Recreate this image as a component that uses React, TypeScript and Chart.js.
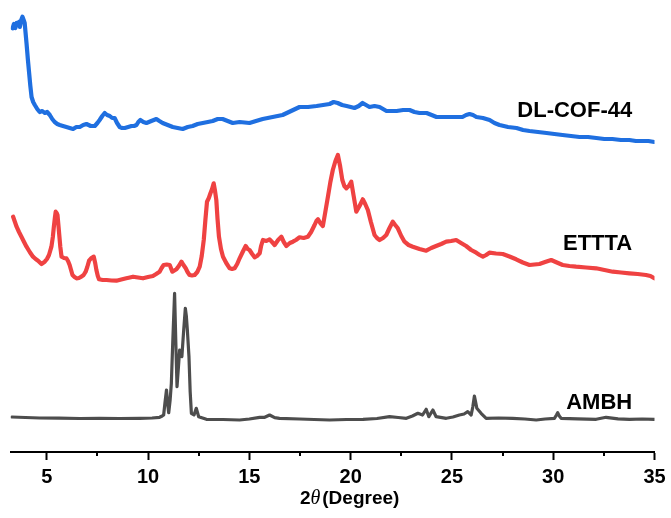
import { useEffect, useRef } from "react";
import { Chart, registerables } from "chart.js";

Chart.register(...registerables);

// 2θ axis range and tick positions (degrees)
const X_MIN = 3.22;
const X_MAX = 35;
const MAJOR_TICKS = [5, 10, 15, 20, 25, 30, 35];
const MINOR_TICKS = [7.5, 12.5, 17.5, 22.5, 27.5, 32.5];

// Stacked intensity scale (a.u.)
const Y_MIN = 0;
const Y_MAX = 442;

const SERIES_NAMES = ["DL-COF-44", "ETTTA", "AMBH"];
const SERIES_COLORS = ["#1f6fe0", "#ef4242", "#4d4d4d"];
const SERIES_WIDTHS = [4.2, 4.2, 3.2];
// Where each trace name sits: [2θ of right edge, intensity]
const LABEL_POS: [number, number][] = [
  [33.9, 341],
  [33.9, 208],
  [33.9, 49.5],
];

// [2θ, intensity] for the COF pattern (offset upward)
const DLCOF44: [number, number][] = [
  [3.31, 423.7], [3.38, 428], [3.45, 424], [3.51, 429], [3.57, 427], [3.63, 430],
  [3.67, 425], [3.74, 432], [3.8, 435.3], [3.86, 432], [3.91, 429], [4.0, 409],
  [4.07, 392], [4.13, 379], [4.19, 366], [4.25, 355], [4.33, 350], [4.41, 347],
  [4.53, 343], [4.65, 340], [4.78, 341], [4.9, 339], [5.02, 340], [5.15, 337],
  [5.27, 333], [5.39, 330], [5.52, 328], [5.64, 327], [5.8, 326], [5.97, 325],
  [6.13, 324], [6.3, 323], [6.46, 325], [6.63, 325], [6.8, 327], [6.96, 328],
  [7.17, 326], [7.37, 326], [7.5, 329], [7.61, 332], [7.74, 336], [7.86, 339],
  [7.98, 337], [8.11, 336], [8.23, 334], [8.35, 334], [8.47, 329], [8.6, 325],
  [8.72, 324], [8.85, 324], [9.02, 325], [9.18, 326], [9.31, 326], [9.43, 327],
  [9.52, 330], [9.62, 332], [9.77, 330], [9.92, 329], [10.16, 331], [10.41, 333],
  [10.56, 331], [10.72, 329], [10.97, 327], [11.22, 325], [11.46, 324], [11.71, 323],
  [11.96, 325], [12.2, 326], [12.45, 328], [12.7, 329], [12.95, 330], [13.19, 331],
  [13.44, 333], [13.68, 333], [13.93, 331], [14.18, 329], [14.52, 330], [15.01, 329],
  [15.33, 331], [15.66, 333], [16.15, 335], [16.64, 337], [17.06, 341], [17.48, 345],
  [17.9, 345], [18.32, 346], [18.64, 347], [18.96, 348], [19.16, 350], [19.36, 349],
  [19.58, 347], [19.8, 346], [20.0, 345], [20.19, 344], [20.4, 346], [20.59, 349],
  [20.76, 347], [20.93, 345], [21.18, 346], [21.43, 345], [21.6, 343], [21.77, 341],
  [22.02, 341], [22.27, 341], [22.59, 342], [22.91, 342], [23.15, 340], [23.4, 339],
  [23.75, 339], [24.0, 337], [24.24, 335], [24.56, 335], [24.88, 335], [25.2, 335],
  [25.52, 335], [25.7, 337], [25.87, 338], [26.04, 337], [26.21, 335], [26.53, 334],
  [26.86, 332], [27.1, 329], [27.35, 327], [27.77, 325], [28.19, 324], [28.51, 322],
  [28.83, 321], [29.25, 320], [29.67, 319], [30.06, 318], [30.46, 317], [30.88, 316],
  [31.3, 315], [31.72, 315], [32.13, 314], [32.52, 313], [32.92, 313], [33.34, 312],
  [33.76, 312], [34.08, 311], [34.4, 311], [34.7, 311], [34.99, 310],
];

// [2θ, intensity] for the linker pattern (middle trace)
const ETTTA: [number, number][] = [
  [3.34, 235.3], [3.43, 230], [3.51, 225.3], [3.63, 220], [3.75, 215.3], [3.88, 210],
  [4.0, 205.3], [4.16, 200], [4.32, 195.3], [4.45, 193], [4.57, 191.3], [4.74, 188],
  [4.9, 190.3], [5.01, 193], [5.11, 197], [5.23, 205.3], [5.3, 215], [5.35, 225.3],
  [5.4, 234], [5.44, 240.3], [5.49, 239], [5.53, 237], [5.57, 228], [5.61, 218.7],
  [5.67, 205], [5.73, 195.3], [5.85, 194], [5.97, 193.7], [6.05, 191], [6.13, 187],
  [6.2, 182], [6.27, 177], [6.37, 175], [6.47, 173.7], [6.59, 174], [6.71, 175.3],
  [6.82, 177], [6.92, 180.3], [7.0, 185], [7.09, 191.3], [7.2, 194], [7.32, 195.3],
  [7.39, 189], [7.45, 182], [7.52, 176], [7.58, 172.7], [7.76, 172], [7.95, 172],
  [8.2, 171.5], [8.44, 171.3], [8.68, 172.5], [8.93, 173.7], [9.1, 174.5], [9.26, 175.3],
  [9.5, 174.5], [9.75, 173.7], [10.0, 175], [10.24, 176], [10.4, 178], [10.57, 180.3],
  [10.67, 184], [10.77, 187], [10.92, 187.5], [11.07, 187], [11.2, 180.3], [11.3, 181.5],
  [11.4, 182.7], [11.52, 186], [11.65, 190.3], [11.75, 187], [11.86, 183.7], [11.95, 180],
  [12.05, 177], [12.17, 176.5], [12.3, 177], [12.43, 180], [12.55, 185.3], [12.65, 196],
  [12.75, 212], [12.83, 232], [12.91, 250.3], [13.0, 254], [13.08, 258.7], [13.16, 263],
  [13.24, 268.7], [13.3, 262], [13.37, 252], [13.43, 233], [13.5, 215.3], [13.6, 203],
  [13.7, 195.3], [13.86, 189], [14.03, 183.7], [14.15, 183], [14.27, 183.7], [14.4, 188],
  [14.52, 193.7], [14.67, 200], [14.82, 206], [14.92, 203], [15.01, 202], [15.14, 198],
  [15.26, 194.7], [15.38, 196], [15.51, 198.7], [15.58, 206], [15.67, 212], [15.84, 211],
  [16.0, 212.7], [16.12, 210], [16.25, 207], [16.42, 212], [16.58, 215.3], [16.7, 210],
  [16.83, 206], [17.0, 209], [17.15, 210.3], [17.3, 212], [17.48, 214.7], [17.68, 214],
  [17.89, 215.3], [18.05, 220], [18.22, 227], [18.31, 231], [18.39, 232.7], [18.5, 229],
  [18.63, 226], [18.75, 240], [18.88, 255.3], [19.0, 270], [19.12, 282], [19.25, 291],
  [19.37, 297], [19.48, 286], [19.59, 272], [19.69, 266], [19.79, 263.7], [19.91, 266],
  [20.03, 270.3], [20.15, 256], [20.28, 240.3], [20.44, 246], [20.6, 252.7], [20.72, 248],
  [20.85, 242], [21.0, 230], [21.18, 217], [21.3, 214], [21.43, 212], [21.6, 214],
  [21.76, 217], [21.92, 224], [22.08, 230.3], [22.2, 227], [22.33, 223.7], [22.5, 216],
  [22.66, 210.3], [22.86, 207], [23.07, 205.3], [23.4, 203], [23.73, 201.3], [23.98, 204],
  [24.22, 206], [24.47, 208], [24.72, 210.3], [24.96, 211], [25.21, 212], [25.45, 209],
  [25.7, 206], [25.95, 202], [26.2, 199.3], [26.37, 197], [26.53, 195.3], [26.69, 197],
  [26.85, 199.3], [27.18, 198.5], [27.51, 198], [27.84, 195.5], [28.17, 192.7], [28.5, 189.5],
  [28.83, 187], [29.07, 187.5], [29.32, 188], [29.6, 190], [29.9, 192], [30.18, 189.5],
  [30.47, 187], [30.8, 186], [31.13, 185.3], [31.62, 184.5], [32.12, 183.7], [32.53, 182],
  [32.94, 180.3], [33.35, 179.5], [33.76, 178.7], [34.17, 178], [34.58, 177], [34.8, 176],
  [34.99, 173.7],
];

// [2θ, intensity] for the amine building block (bottom trace)
const AMBH: [number, number][] = [
  [3.27, 35], [3.95, 34.5], [4.65, 34], [5.6, 33.8], [6.63, 33.5], [7.6, 33.7],
  [8.6, 33.5], [9.59, 33.7], [10.2, 34], [10.57, 34.7], [10.7, 36], [10.77, 37],
  [10.84, 50], [10.91, 62], [10.97, 48], [11.02, 39.3], [11.09, 52], [11.15, 68.7],
  [11.22, 110], [11.31, 158.7], [11.37, 110], [11.43, 65.3], [11.5, 85], [11.56, 102],
  [11.62, 98], [11.67, 95.3], [11.76, 122], [11.84, 143.7], [11.89, 136], [11.94, 122],
  [12.02, 95.3], [12.08, 60], [12.14, 38.7], [12.27, 37], [12.38, 43.7], [12.5, 35.3],
  [12.88, 32.7], [13.7, 32.5], [14.52, 32], [15.0, 33], [15.51, 34.7], [15.76, 34.7],
  [16.0, 37], [16.25, 34.3], [16.49, 33.7], [17.48, 33], [18.2, 32.5], [18.96, 32],
  [19.8, 32.5], [20.61, 32.7], [21.3, 33.5], [21.92, 35.3], [22.35, 34.5], [22.75, 33.7],
  [23.05, 36], [23.32, 38.7], [23.55, 37], [23.73, 42.7], [23.86, 35.3], [24.06, 42],
  [24.22, 35.3], [24.72, 33.7], [25.05, 35], [25.37, 37], [25.6, 38], [25.78, 40.3],
  [25.95, 37], [26.03, 45], [26.11, 56], [26.17, 50], [26.23, 43.7], [26.44, 38.7],
  [26.69, 33.7], [27.3, 34], [28.0, 33.7], [28.6, 33], [29.16, 32], [29.6, 33],
  [30.06, 33.7], [30.16, 37], [30.22, 39.3], [30.3, 36], [30.39, 33.7], [31.2, 33.2],
  [32.12, 32.7], [32.61, 34.7], [33.2, 33.2], [33.76, 32.7], [34.4, 33], [34.99, 32.7],
];

const SERIES_DATA = [DLCOF44, ETTTA, AMBH];

const FONT = '"Liberation Sans", Arial, Helvetica, sans-serif';

const decorations = {
  id: "xrdDecorations",
  afterDraw(chart: any) {
    const { ctx, chartArea, scales } = chart;
    const xs = scales.x;
    const ys = scales.y;
    ctx.save();

    // minor ticks along the 2θ axis
    ctx.strokeStyle = "#000";
    ctx.lineWidth = 2;
    const axisY = chartArea.bottom;
    MINOR_TICKS.forEach((v) => {
      const px = Math.round(xs.getPixelForValue(v));
      ctx.beginPath();
      ctx.moveTo(px, axisY);
      ctx.lineTo(px, axisY + 4);
      ctx.stroke();
    });

    // trace names
    ctx.fillStyle = "#000";
    ctx.font = `bold 22px ${FONT}`;
    ctx.textAlign = "right";
    ctx.textBaseline = "middle";
    SERIES_NAMES.forEach((name, i) => {
      const [lx, ly] = LABEL_POS[i];
      ctx.fillText(name, xs.getPixelForValue(lx), ys.getPixelForValue(ly));
    });

    // axis title: 2θ(Degree) with an italic theta
    const parts = [
      { t: "2", f: `bold 19px ${FONT}` },
      { t: "\u03B8", f: `italic 20px "Liberation Serif", "Times New Roman", serif` },
      { t: "(Degree)", f: `bold 19px ${FONT}` },
    ];
    const gap = 2;
    let total = gap;
    const widths = parts.map((p) => {
      ctx.font = p.f;
      const w = ctx.measureText(p.t).width;
      total += w;
      return w;
    });
    let cx = xs.getPixelForValue(20) - 1 - total / 2;
    ctx.textAlign = "left";
    ctx.textBaseline = "middle";
    const ty = chart.height - 19.5;
    parts.forEach((p, i) => {
      ctx.font = p.f;
      ctx.fillText(p.t, cx, ty);
      cx += widths[i] + (i === 1 ? gap : 0);
    });
    ctx.restore();
  },
};

export default function App() {
  const canvasRef = useRef<HTMLCanvasElement | null>(null);

  useEffect(() => {
    if (!canvasRef.current) return;
    const chart = new Chart(canvasRef.current, {
      type: "line",
      data: {
        datasets: SERIES_DATA.map((d, i) => ({
          label: SERIES_NAMES[i],
          data: d.map(([x, y]) => ({ x, y })),
          borderColor: SERIES_COLORS[i],
          borderWidth: SERIES_WIDTHS[i],
          pointRadius: 0,
          tension: 0,
          fill: false,
          borderJoinStyle: "round" as const,
          borderCapStyle: "round" as const,
        })),
      },
      options: {
        animation: false,
        responsive: false,
        maintainAspectRatio: false,
        layout: { padding: { left: 10.7, right: 16.5, top: 10, bottom: 0 } },
        plugins: {
          legend: { display: false },
          tooltip: { enabled: false },
          title: { display: false },
        },
        scales: {
          x: {
            type: "linear",
            min: X_MIN,
            max: X_MAX,
            afterBuildTicks: (s: any) => {
              s.ticks = MAJOR_TICKS.map((v) => ({ value: v }));
            },
            afterFit: (s: any) => {
              s.height = 66;
            },
            ticks: {
              color: "#000",
              font: { family: FONT, size: 20, weight: "bold", lineHeight: 1.45 },
              padding: 3,
              maxRotation: 0,
              autoSkip: false,
            },
            grid: {
              drawOnChartArea: false,
              drawTicks: true,
              tickLength: 8,
              tickWidth: 2,
              tickColor: "#000",
            },
            border: { display: true, color: "#000", width: 2 },
          },
          y: {
            type: "linear",
            display: false,
            min: Y_MIN,
            max: Y_MAX,
          },
        },
      },
      plugins: [decorations],
    });
    return () => chart.destroy();
  }, []);

  return (
    <div style={{ position: "fixed", left: 0, top: 0, width: 671, height: 518, background: "#fff" }}>
      <canvas ref={canvasRef} width={671} height={518} style={{ display: "block" }} />
    </div>
  );
}
